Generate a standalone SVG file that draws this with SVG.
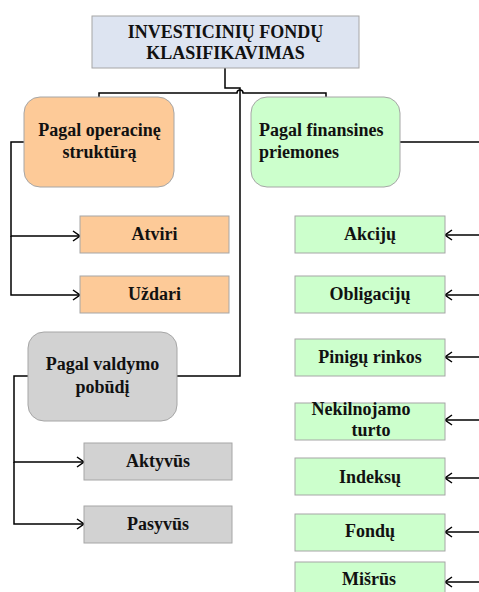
<svg xmlns="http://www.w3.org/2000/svg" width="479" height="592" viewBox="0 0 479 592">
  <style>
    text { font-family: "Liberation Serif", "Times New Roman", serif; font-weight: bold; font-size: 18px; fill: #111; }
    .c { text-anchor: middle; }
    .box { stroke: #a6a6a6; stroke-width: 1; }
    .blue { fill: #dde4f1; }
    .orange { fill: #fdca98; }
    .green { fill: #ccffcc; }
    .gray { fill: #d2d2d2; }
    .ln { fill: none; stroke: #000; stroke-width: 1.5; }
  </style>
  <defs>
    <marker id="arr" markerUnits="userSpaceOnUse" markerWidth="10" markerHeight="12" refX="9" refY="6" orient="auto" viewBox="0 0 10 12">
      <path d="M2,1 L9,6 L2,11" fill="none" stroke="#000" stroke-width="1.5"/>
    </marker>
  </defs>

  <!-- connectors -->
  <g id="connectors">
    <path class="ln" d="M225,68 V88 H240 V376 H177"/>
    <path class="ln" d="M99,97 V93 H237 A3,3 0 0 1 243,93 H326 V97"/>
    <path class="ln" d="M24,142 H11 V236 H80" marker-end="url(#arr)"/>
    <path class="ln" d="M11,236 V295 H80" marker-end="url(#arr)"/>
    <path class="ln" d="M28,376 H14 V462 H84" marker-end="url(#arr)"/>
    <path class="ln" d="M14,462 V524 H84" marker-end="url(#arr)"/>
    <path class="ln" d="M400,142 H479"/>
    <path class="ln" d="M479,235 H445" marker-end="url(#arr)"/>
    <path class="ln" d="M479,295 H445" marker-end="url(#arr)"/>
    <path class="ln" d="M479,357 H445" marker-end="url(#arr)"/>
    <path class="ln" d="M479,420 H445" marker-end="url(#arr)"/>
    <path class="ln" d="M479,478 H445" marker-end="url(#arr)"/>
    <path class="ln" d="M479,532 H445" marker-end="url(#arr)"/>
    <path class="ln" d="M479,582 H445" marker-end="url(#arr)"/>
  </g>

  <!-- root -->
  <g id="root">
    <rect class="box blue" x="92" y="16" width="267" height="52"/>
    <text class="c" x="225.5" y="37.5">INVESTICINIŲ FONDŲ</text>
    <text class="c" x="225.5" y="59">KLASIFIKAVIMAS</text>
  </g>

  <!-- by operational structure -->
  <g id="operacine">
    <rect class="box orange" x="24" y="97" width="150" height="90" rx="16"/>
    <text class="c" x="99.5" y="136">Pagal operacinę</text>
    <text class="c" x="99.5" y="158">struktūrą</text>
  </g>
  <g id="atviri">
    <rect class="box orange" x="80" y="216" width="149" height="37"/>
    <text class="c" x="154.5" y="240">Atviri</text>
  </g>
  <g id="uzdari">
    <rect class="box orange" x="80" y="276" width="149" height="37"/>
    <text class="c" x="154.5" y="300">Uždari</text>
  </g>

  <!-- by management style -->
  <g id="valdymo">
    <rect class="box gray" x="28" y="332" width="149" height="89" rx="16"/>
    <text class="c" x="102.5" y="370">Pagal valdymo</text>
    <text class="c" x="102.5" y="393">pobūdį</text>
  </g>
  <g id="aktyvus">
    <rect class="box gray" x="84" y="443" width="148" height="37"/>
    <text class="c" x="158" y="467">Aktyvūs</text>
  </g>
  <g id="pasyvus">
    <rect class="box gray" x="84" y="506" width="148" height="37"/>
    <text class="c" x="158" y="530">Pasyvūs</text>
  </g>

  <!-- by financial instruments -->
  <g id="finansines">
    <rect class="box green" x="251" y="97" width="149" height="90" rx="16"/>
    <text x="259" y="136">Pagal finansines</text>
    <text x="259" y="158">priemones</text>
  </g>
  <g id="akciju">
    <rect class="box green" x="295" y="216" width="150" height="37"/>
    <text class="c" x="370" y="240">Akcijų</text>
  </g>
  <g id="obligaciju">
    <rect class="box green" x="295" y="276" width="150" height="37"/>
    <text class="c" x="370" y="300">Obligacijų</text>
  </g>
  <g id="piniginiu">
    <rect class="box green" x="295" y="339" width="150" height="37"/>
    <text class="c" x="370" y="363">Pinigų rinkos</text>
  </g>
  <g id="nekilnojamo">
    <rect class="box green" x="295" y="403" width="150" height="37"/>
    <text class="c" x="361" y="415">Nekilnojamo</text>
    <text class="c" x="371" y="436">turto</text>
  </g>
  <g id="indeksu">
    <rect class="box green" x="295" y="458" width="150" height="37"/>
    <text class="c" x="370" y="483">Indeksų</text>
  </g>
  <g id="fondu">
    <rect class="box green" x="295" y="514" width="150" height="37"/>
    <text class="c" x="370" y="537">Fondų</text>
  </g>
  <g id="misrus">
    <rect class="box green" x="295" y="562" width="150" height="40"/>
    <text class="c" x="369" y="585">Mišrūs</text>
  </g>
</svg>
